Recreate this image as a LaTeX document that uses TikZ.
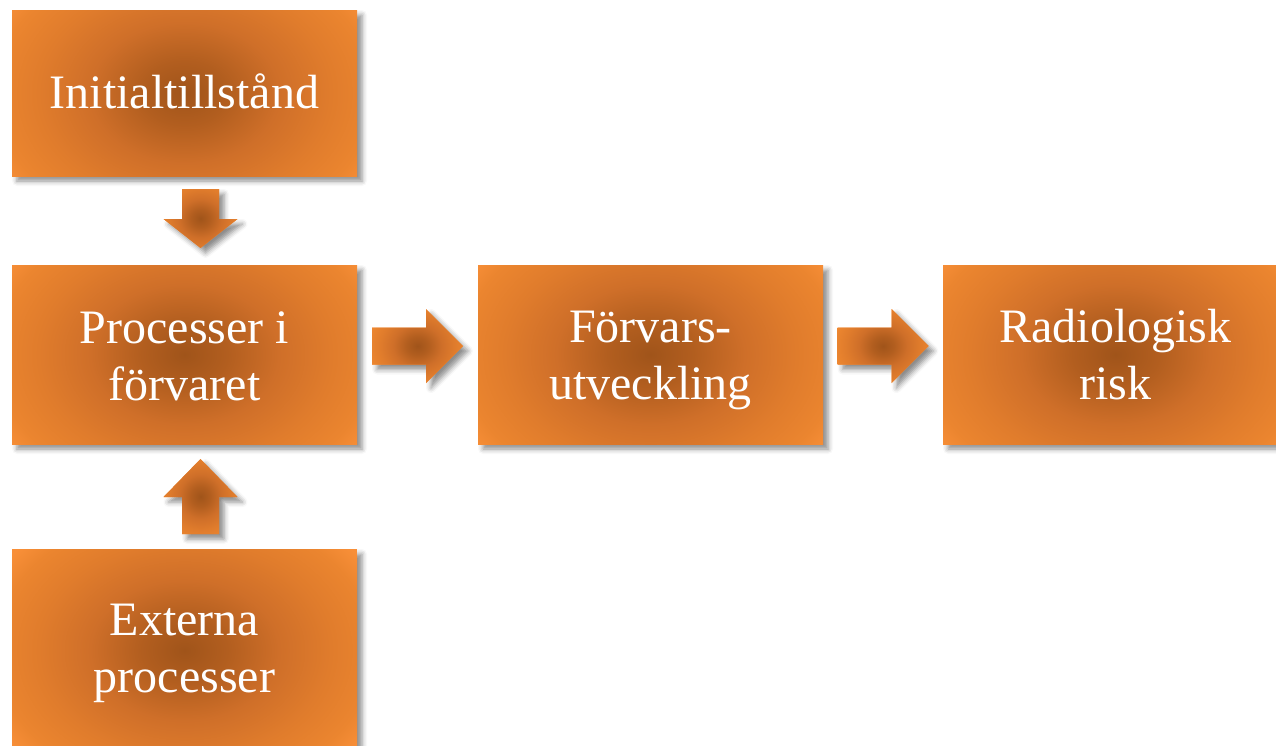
\documentclass[tikz,border=0pt]{standalone}
\usepackage{fontspec}
\setmainfont{Liberation Serif}
\usetikzlibrary{shadows.blur,calc}

% colour ramp of the glow: dark brown core to bright orange rim
% (25bp is the rim of the shaded ellipse)
\definecolor{glowA}{HTML}{A0541A}
\definecolor{glowB}{HTML}{B25E1F}
\definecolor{glowC}{HTML}{CF6F29}
\definecolor{glowD}{HTML}{E07C2C}
\definecolor{glowE}{HTML}{EB852F}
\definecolor{glowF}{HTML}{F88F38}
\pgfdeclareradialshading{glow}{\pgfpoint{0bp}{0bp}}{%
  color(0bp)=(glowA); color(5bp)=(glowB); color(11bp)=(glowC);
  color(17bp)=(glowD); color(22bp)=(glowE); color(25bp)=(glowF);
  color(50bp)=(glowF)}

\tikzset{
  dropshade/.style={blur shadow={shadow xshift=5pt, shadow yshift=-5pt,
      shadow blur radius=5pt, shadow opacity=45}},
  % elliptic glow with radii #1 and #2 centred in the shape, clipped to it
  glowfill/.style 2 args={fill=glowF, draw=none, dropshade,
      path picture={\shade[shading=glow]
        (path picture bounding box.center) ellipse [x radius=#1, y radius=#2];}},
  stagebox/.style={glowfill={215}{160}, inner sep=0pt, minimum width=345pt},
  stagetext/.style={text=white, align=center, inner sep=0pt,
      anchor=south, text depth=0pt, font=\fontsize{48}{57}\selectfont},
  % block arrows: #1 = total length, #2 = head length
  pics/arrowright/.style 2 args={code={
      \path[glowfill={55}{48}] (-#1/2,-18.5) -- (#1/2-#2,-18.5) -- (#1/2-#2,-37)
        -- (#1/2,0) -- (#1/2-#2,37) -- (#1/2-#2,18.5) -- (-#1/2,18.5) -- cycle;}},
  pics/arrowdown/.style 2 args={code={
      \path[glowfill={48}{44}] (-18.5,-#1/2) -- (18.5,-#1/2) -- (18.5,#1/2-#2)
        -- (37,#1/2-#2) -- (0,#1/2) -- (-37,#1/2-#2) -- (-18.5,#1/2-#2) -- cycle;}},
  pics/arrowup/.style 2 args={code={
      \path[glowfill={48}{50}] (-18.5,#1/2) -- (18.5,#1/2) -- (18.5,-#1/2+#2)
        -- (37,-#1/2+#2) -- (0,-#1/2) -- (-37,-#1/2+#2) -- (-18.5,-#1/2+#2) -- cycle;}},
}

\begin{document}
\begin{tikzpicture}[x=1pt,y=-1pt]
\useasboundingbox (0,0) rectangle (1276,745);

% stages
\node[stagebox, minimum height=166pt] (init) at (184.5,93)     {};
\node[stagebox, minimum height=179pt] (proc) at (184.5,354.5)  {};
\node[stagebox, minimum height=203pt] (ext)  at (184.5,650.5)  {};
\node[stagebox, minimum height=179pt] (dev)  at (650.5,354.5)  {};
\node[stagebox, minimum height=179pt] (risk) at (1115.5,354.5) {};

% stage captions, placed by the baseline of their last line
\node[stagetext] (initT) at ($(init.center)+(0,16)$)   {Initialtillstånd};
\node[stagetext] (procT) at ($(proc.center)+(0,46.5)$) {Processer i\\förvaret};
\node[stagetext] (extT)  at ($(ext.center)+(0,42.5)$)  {Externa\\processer};
\node[stagetext] (devT)  at ($(dev.center)+(0,45.5)$)  {Förvars-\\utveckling};
\node[stagetext] (riskT) at ($(risk.center)+(0,45.5)$) {Radiologisk\\risk};

% block arrows between the stages
\coordinate (a1) at ($(init.south)!0.5!(proc.north)+(16,-2)$);
\coordinate (a2) at ($(proc.south)!0.5!(ext.north)+(16,0)$);
\coordinate (a3) at ($(proc.east)!0.5!(dev.west)+(0,-8.5)$);
\coordinate (a4) at ($(dev.east)!0.5!(risk.west)+(0,-8.5)$);
\pic at (a1) {arrowdown={59}{29}};
\pic at (a2) {arrowup={75}{38}};
\pic at (a3) {arrowright={91}{37}};
\pic at (a4) {arrowright={91}{37}};
\end{tikzpicture}
\end{document}
